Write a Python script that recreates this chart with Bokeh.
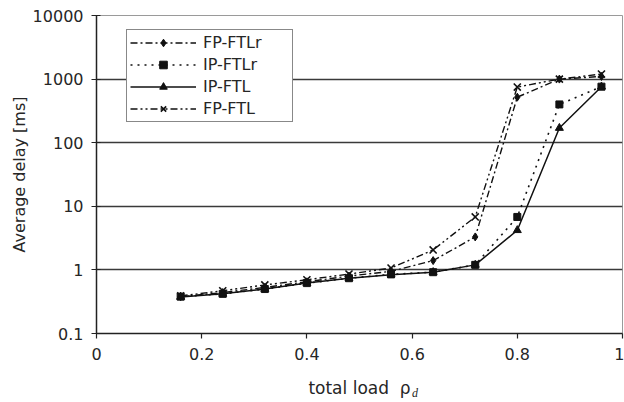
from bokeh.plotting import figure
from bokeh.models import (Range1d, FixedTicker, CustomJSTickFormatter, Legend,
                          LegendItem, Label)
from bokeh.embed import file_html
from bokeh.resources import INLINE

# ---- data ----
load = [0.16, 0.24, 0.32, 0.40, 0.48, 0.56, 0.64, 0.72, 0.80, 0.88, 0.96]
fp_ftlr = [0.38, 0.44, 0.53, 0.65, 0.80, 0.95, 1.40, 3.3, 520, 1000, 1100]
ip_ftlr = [0.38, 0.42, 0.50, 0.62, 0.74, 0.85, 0.92, 1.2, 6.8, 400, 760]
ip_ftl = [0.376, 0.42, 0.50, 0.62, 0.74, 0.84, 0.92, 1.2, 4.2, 170, 760]
fp_ftl = [0.39, 0.47, 0.58, 0.70, 0.86, 1.07, 2.06, 6.8, 750, 1000, 1200]
series_names = ["FP-FTLr", "IP-FTLr", "IP-FTL", "FP-FTL"]
x_ticks = [0, 0.2, 0.4, 0.6, 0.8, 1]
y_ticks = [0.1, 1, 10, 100, 1000, 10000]
grid_ticks = [1, 10, 100, 1000]

FONT = "DejaVu Sans"
TXT = "#262626"
INK = "#111111"

p = figure(width=624, height=402, output_backend="svg", toolbar_location=None,
           y_axis_type="log",
           x_range=Range1d(0, 1), y_range=Range1d(0.1, 10000),
           min_border_left=96, min_border_right=2, min_border_top=15,
           min_border_bottom=69)
p.background_fill_color = "white"
p.border_fill_color = "white"
p.outline_line_color = "#9a9a9a"
p.outline_line_width = 1

# grid
p.xgrid.grid_line_color = None
p.ygrid.ticker = FixedTicker(ticks=grid_ticks)
p.ygrid.grid_line_color = "#3a3a3a"
p.ygrid.grid_line_width = 1.6

# axes
p.xaxis.ticker = FixedTicker(ticks=x_ticks)
p.yaxis.ticker = FixedTicker(ticks=y_ticks)
p.xaxis.formatter = CustomJSTickFormatter(
    code="return tick == 0 ? '0' : (Math.abs(tick - 1) < 1e-9 ? '1' : tick.toFixed(1));")
p.yaxis.formatter = CustomJSTickFormatter(
    code="return tick < 1 ? tick.toFixed(1) : tick.toFixed(0);")
for ax in (p.xaxis[0], p.yaxis[0]):
    ax.axis_line_color = "#222222"
    ax.axis_line_width = 1.5
    ax.major_tick_line_color = "#222222"
    ax.major_tick_line_width = 1.2
    ax.minor_tick_line_color = None
    ax.major_label_text_font = FONT
    ax.major_label_text_font_size = "16px"
    ax.major_label_text_color = TXT
    ax.axis_label_text_font = FONT
    ax.axis_label_text_font_style = "normal"
    ax.axis_label_text_color = TXT

p.xaxis.major_tick_in = 0
p.xaxis.major_tick_out = 5
p.xaxis.major_label_standoff = 9
p.xaxis.axis_label = "total load\u00a0\u00a0ρ"
p.xaxis.axis_label_text_font_size = "17px"
p.xaxis.axis_label_standoff = 15

p.yaxis.major_tick_in = 4
p.yaxis.major_tick_out = 5
p.yaxis.major_label_standoff = 8
p.yaxis.axis_label = "Average delay [ms]"
p.yaxis.axis_label_text_font_size = "16px"
p.yaxis.axis_label_standoff = 1

# series
l1 = p.line(load, fp_ftlr, line_color=INK, line_width=1.4, line_dash="7 3 2 3")
m1 = p.scatter(load, fp_ftlr, marker="diamond", size=8, color=INK)
l2 = p.line(load, ip_ftlr, line_color=INK, line_width=1.6, line_dash="2 5")
m2 = p.scatter(load, ip_ftlr, marker="square", size=7, color=INK)
l3 = p.line(load, ip_ftl, line_color=INK, line_width=1.5)
m3 = p.scatter(load, ip_ftl, marker="triangle", size=8, color=INK)
l4 = p.line(load, fp_ftl, line_color=INK, line_width=1.4, line_dash="7 3 2 3 2 3")
m4 = p.scatter(load, fp_ftl, marker="x", size=10, line_color=INK, line_width=1.6)

items = [LegendItem(label=series_names[0], renderers=[l1, m1]),
         LegendItem(label=series_names[1], renderers=[l2, m2]),
         LegendItem(label=series_names[2], renderers=[l3, m3]),
         LegendItem(label=series_names[3], renderers=[l4, m4])]
legend = Legend(items=items, location=(30, 211), orientation="vertical",
                background_fill_color="white", background_fill_alpha=1,
                border_line_color="#111111", border_line_width=1.5,
                label_text_font=FONT, label_text_font_size="16px",
                label_text_color=TXT, glyph_width=66, glyph_height=19,
                label_height=19, label_width=86, label_standoff=7,
                spacing=3, padding=3, margin=0)
p.add_layout(legend)

# subscript "d" of rho, as an annotation in the (roomy) left side panel
p.add_layout(Label(x=0.600, y=0.0114, x_units="data", y_units="data", text="d",
                   text_font="Liberation Serif", text_font_style="italic",
                   text_font_size="12px", text_color=TXT,
                   text_baseline="alphabetic"), "left")

open("out.html", "w").write(file_html(p, INLINE))
